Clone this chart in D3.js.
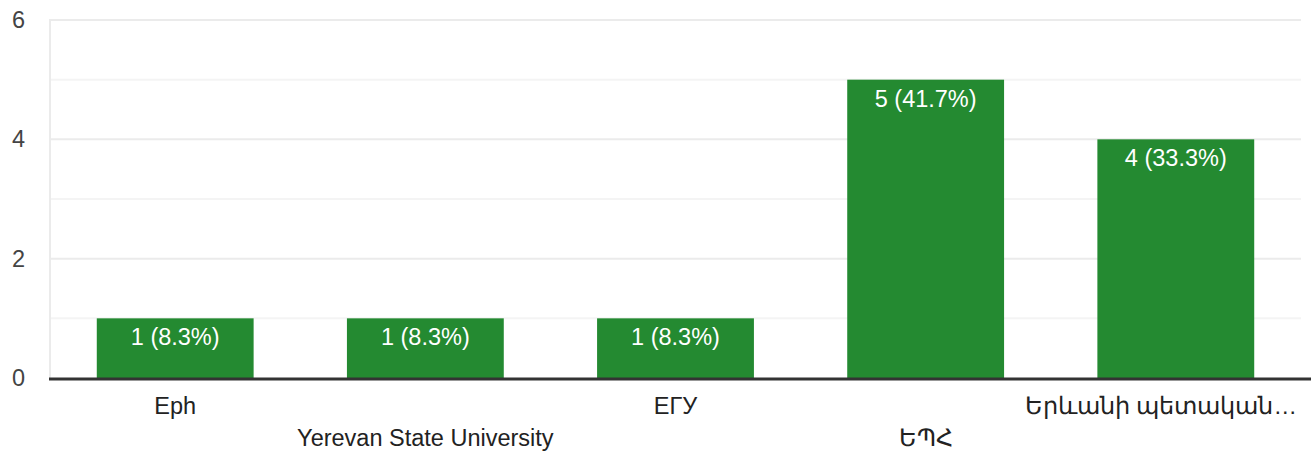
<!DOCTYPE html>
<html>
<head>
    <meta charset="utf-8">
    <script src="https://d3js.org/d3.v7.min.js"></script>
    <style>
        body { margin: 0; background: #fff; }
        svg { display: block; font-family: "Liberation Sans", Arial, Helvetica, sans-serif; }
    </style>
</head>
<body>
    <svg width="1311" height="452"></svg>
    <script>
        // data
        const categories = ["Eph", "Yerevan State University", "ЕГУ", "ԵՊՀ", "Երևանի պետական…"];
        const counts = [1, 1, 1, 5, 4];
        const percents = ["8.3%", "8.3%", "8.3%", "41.7%", "33.3%"];
        const yTicks = [0, 2, 4, 6];
        const gridValues = [1, 2, 3, 4, 5, 6];

        const width = 1311, height = 452;
        const margin = { left: 50, right: 10, top: 20, bottom: 74 };
        const fontSize = 23.5;

        const svg = d3.select("svg");

        const x = d3.scaleBand()
            .domain(categories)
            .range([margin.left, width - margin.right])
            .paddingInner(0.373)
            .paddingOuter(0.187);

        const y = d3.scaleLinear()
            .domain([0, 6])
            .range([height - margin.bottom, margin.top]);

        // gridlines
        svg.append("g")
            .selectAll("line")
            .data(gridValues)
            .enter().append("line")
            .attr("x1", margin.left - 1)
            .attr("x2", width - margin.right)
            .attr("y1", d => y(d))
            .attr("y2", d => y(d))
            .attr("stroke", d => d % 2 === 0 ? "#ebebeb" : "#f4f4f4")
            .attr("stroke-width", 2);

        // left axis line
        svg.append("line")
            .attr("x1", margin.left).attr("x2", margin.left)
            .attr("y1", y(6) - 1).attr("y2", y(0))
            .attr("stroke", "#ebebeb")
            .attr("stroke-width", 2);

        // bars
        svg.append("g")
            .selectAll("rect")
            .data(counts)
            .enter().append("rect")
            .attr("x", (d, i) => x(categories[i]))
            .attr("y", d => y(d))
            .attr("width", x.bandwidth())
            .attr("height", d => y(0) - y(d))
            .attr("fill", "#248a31");

        // value labels
        svg.append("g")
            .selectAll("text")
            .data(counts)
            .enter().append("text")
            .attr("x", (d, i) => x(categories[i]) + x.bandwidth() / 2)
            .attr("y", d => y(d) + 27)
            .attr("text-anchor", "middle")
            .attr("fill", "#fff")
            .attr("font-size", fontSize)
            .text((d, i) => d + " (" + percents[i] + ")");

        // baseline
        svg.append("line")
            .attr("x1", margin.left - 1)
            .attr("x2", width)
            .attr("y1", y(0) + 1)
            .attr("y2", y(0) + 1)
            .attr("stroke", "#333")
            .attr("stroke-width", 3);

        // y tick labels
        svg.append("g")
            .selectAll("text")
            .data(yTicks)
            .enter().append("text")
            .attr("x", 25)
            .attr("y", d => y(d) + 8)
            .attr("text-anchor", "end")
            .attr("fill", "#444")
            .attr("font-size", fontSize)
            .text(d => d);

        // x labels, staggered on two rows
        const xl = svg.append("g")
            .selectAll("text")
            .data(categories)
            .enter().append("text")
            .attr("x", d => x(d) + x.bandwidth() / 2)
            .attr("y", (d, i) => i % 2 === 0 ? y(0) + 36 : y(0) + 68)
            .attr("text-anchor", "middle")
            .attr("fill", "#222")
            .attr("font-size", fontSize)
            .text(d => d);

        // keep the last label inside the chart
        xl.each(function() {
            const bb = this.getBBox();
            if (bb.x + bb.width > width - 14) {
                d3.select(this).attr("text-anchor", "end").attr("x", width - 14);
            }
        });
    </script>
</body>
</html>
